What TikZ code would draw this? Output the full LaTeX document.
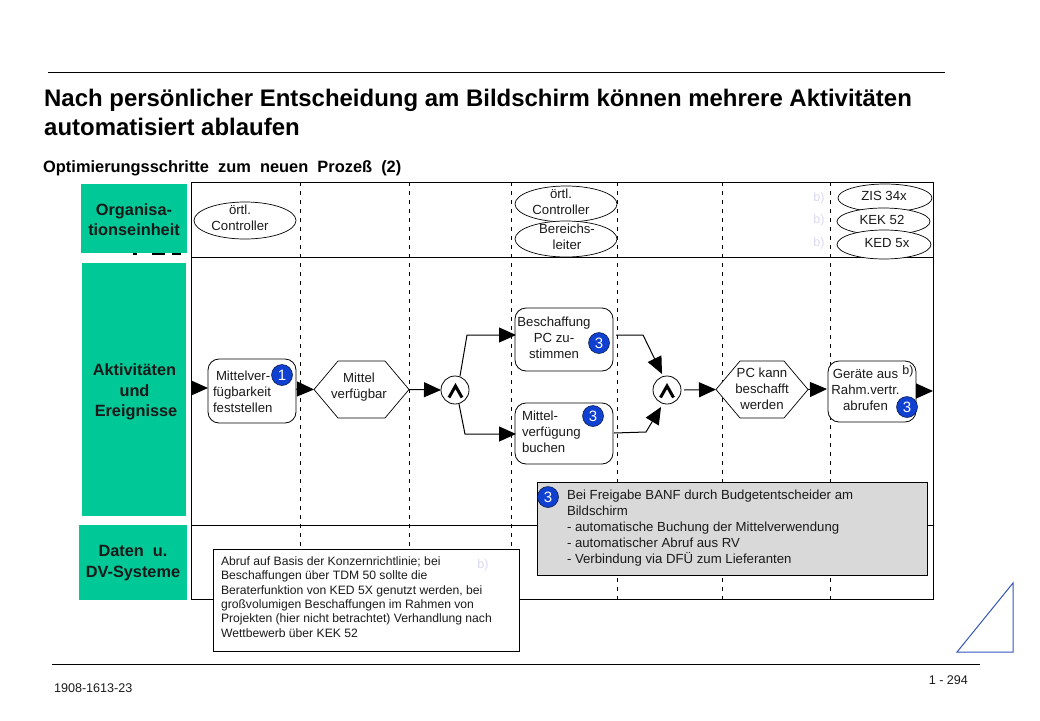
\documentclass[tikz,border=0pt]{standalone}
\usepackage{fontspec}
\setmainfont{Liberation Sans}
\usetikzlibrary{arrows.meta,shapes.geometric}
\definecolor{grn}{HTML}{00C896}
\definecolor{bdg}{HTML}{1040D0}
\definecolor{ink}{HTML}{1A1A1A}
\definecolor{lav}{HTML}{DADAF0}
\definecolor{tri}{HTML}{3355BB}
\newcommand{\hexpath}[1]{\draw[line width=0.7pt,fill=white] (#1.west) -- ([xshift=24pt]#1.north west) -- ([xshift=-24pt]#1.north east) -- (#1.east) -- ([xshift=-24pt]#1.south east) -- ([xshift=24pt]#1.south west) -- cycle;}
\tikzset{
 x=1pt,y=-1pt,
 lab/.style={inner sep=0,outer sep=0,text=ink,font=\fontsize{13.2}{16}\selectfont,align=center},
 lableft/.style={lab,align=left,anchor=west},
 green/.style={fill=grn,inner sep=0,outer sep=0},
 greentext/.style={inner sep=0,outer sep=0,text=black!90,font=\bfseries\fontsize{16.3}{20.5}\selectfont,align=center},
 org/.style={ellipse,draw=black,fill=white,line width=0.7pt,inner sep=0,outer sep=0,minimum width=#1},
 act/.style={rounded corners=11pt,draw=black,fill=white,line width=0.8pt,inner sep=0,outer sep=0,rectangle},
 hexa/.style={rectangle,inner sep=0,outer sep=0},
 badge/.style={circle,fill=bdg,draw=black!70!bdg,line width=0.5pt,minimum size=21pt,inner sep=0,outer sep=0,text=white,font=\fontsize{15}{15}\selectfont},
 andg/.style={circle,draw=black,fill=white,line width=0.8pt,minimum size=28pt,inner sep=0,outer sep=0},
 flow/.style={line width=1pt,draw=black,-{Triangle[length=17pt,width=15pt]}},
 guide/.style={line width=1pt,dashed,dash pattern=on 4pt off 5pt,draw=black},
 faint/.style={inner sep=0,text=lav,font=\fontsize{12.5}{12.5}\selectfont},
}
\begin{document}
\begin{tikzpicture}
\useasboundingbox (0,0) rectangle (1040,720);
% rules
\coordinate (ta) at (48,72); \coordinate (tb) at (945,72);
\draw[line width=0.9pt] (ta) -- (tb);
\coordinate (ba) at (52,664); \coordinate (bb) at (980,664);
\draw[line width=0.9pt] (ba) -- (bb);
% title
\node[inner sep=0,anchor=west,text=black,font=\bfseries\fontsize{23.95}{29.5}\selectfont,align=left] (title) at (44,112.5) {Nach persönlicher Entscheidung am Bildschirm können mehrere Aktivitäten\\automatisiert ablaufen};
\node[inner sep=0,anchor=west,text=black,font=\bfseries\fontsize{16.4}{16.4}\selectfont] (sub) at (43,168) {Optimierungsschritte\ \ zum\ \ neuen\ \ Prozeß\ \ (2)};
% remnants below the first green box
\fill (133,252) rectangle (137,255);
\fill (152,252) rectangle (165,255);
\fill (172,252) rectangle (181,255);
% green
\node[green,minimum width=106pt,minimum height=69pt] (g1) at (134,218.5) {};
\node[greentext] (g1t) at (134,219.5) {Organisa-\\tionseinheit};
\node[green,minimum width=104pt,minimum height=253pt] (g2) at (134,389.5) {};
\node[greentext] (g2t) at (134.5,392) {Aktivitäten\\und\\\hspace*{3pt}Ereignisse};
\node[green,minimum width=108pt,minimum height=75pt] (g3) at (133,562.5) {};
\node[greentext] (g3t) at (133,563) {Daten\ \ u.\\DV-Systeme};
% frame
\node[draw=black,line width=1pt,inner sep=0,outer sep=0,minimum width=742pt,minimum height=417pt] (frame) at (562,390.5) {};
\coordinate (r1a) at (191,257); \coordinate (r1b) at (933,257);
\coordinate (r2a) at (191,525); \coordinate (r2b) at (933,525);
\draw[line width=1pt] (r1a) -- (r1b);
\draw[line width=1pt] (r2a) -- (r2b);
\foreach \gx [count=\gi] in {300,409,511,617,722,830}{
 \coordinate (gt\gi) at (\gx,182); \coordinate (gb\gi) at (\gx,601);
 \draw[guide] (gt\gi) -- (gb\gi);
}
% org ellipses
\node[org=102pt,minimum height=37pt] (e1) at (245,220.5) {};
\node[lab] (e1t) at (240,218) {örtl.\\Controller};
\node[org=102pt,minimum height=36pt] (e2) at (566,204) {};
\node[lab] (e2t) at (561,201.5) {örtl.\\Controller};
\node[org=102pt,minimum height=36pt] (e3) at (566,239) {};
\node[lab] (e3t) at (567,237) {Bereichs-\\leiter};
\node[org=94pt,minimum height=28pt] (e4) at (885,198) {};
\node[lab] (e4t) at (884,196) {ZIS 34x};
\node[org=93pt,minimum height=27pt] (e5) at (883.5,221.5) {};
\node[lab] (e5t) at (882,220) {KEK 52};
\node[org=94pt,minimum height=29pt] (e6) at (884,244.5) {};
\node[lab] (e6t) at (887,243) {KED 5x};
\node[faint] (b1) at (819,198) {b)};
\node[faint] (b2) at (819,220) {b)};
\node[faint] (b3) at (819,243) {b)};
% activities
\node[act,minimum width=88pt,minimum height=64pt] (a1) at (252,391) {};
\node[lableft] (a1t) at (213,391.5) {\hspace*{3pt}Mittelver-\\fügbarkeit\\feststellen};
\node[hexa,minimum width=95pt,minimum height=57pt] (h1) at (361.5,389.5) {};
\hexpath{h1}
\node[lab] (h1t) at (359,387) {Mittel\\verfügbar};
\node[andg] (c1) at (455,390) {};
\node[act,minimum width=98pt,minimum height=63pt] (a2) at (564,339.5) {};
\node[lab] (a2t) at (554,338) {Beschaffung\\PC zu-\\stimmen};
\node[act,minimum width=98pt,minimum height=61pt] (a3) at (564,433.5) {};
\node[lableft] (a3t) at (522,432) {Mittel-\\verfügung\\buchen};
\node[andg] (c2) at (667,390) {};
\node[hexa,minimum width=92pt,minimum height=57pt] (h2) at (762,389.5) {};
\hexpath{h2}
\node[lab] (h2t) at (762,389) {PC kann\\beschafft\\werden};
\node[act,minimum width=88pt,minimum height=61pt] (a4) at (872,391.5) {};
\node[lab] (a4t) at (865.5,390) {Geräte\ aus\\Rahm.vertr.\\abrufen};
\node[lab,font=\fontsize{12.5}{12.5}\selectfont] (a4b) at (908,371) {b)};
% and symbols
\coordinate (s1a) at (449,397.5); \coordinate (s1b) at (455.5,386); \coordinate (s1c) at (462,397.5);
\draw[line width=3pt] (s1a) -- (s1b) -- (s1c);
\coordinate (s2a) at (660.5,397.5); \coordinate (s2b) at (667,386); \coordinate (s2c) at (673.5,397.5);
\draw[line width=3pt] (s2a) -- (s2b) -- (s2c);
% connectors
\coordinate (in) at (191,388); \coordinate (in2) at (208,388);
\draw[flow] (in) -- (in2);
\coordinate (a1o) at (296,389);
\draw[flow] (a1o) -- (h1.west);
\draw[flow] (h1.east) -- (c1.west);
\coordinate (w1) at (467,335); \coordinate (w1s) at (460,376);
\coordinate (a2in) at (516,335);
\draw[flow] (w1s) -- (w1) -- (a2in);
\coordinate (w2) at (465,434); \coordinate (w2s) at (459,404);
\coordinate (a3in) at (516,434);
\draw[flow] (w2s) -- (w2) -- (a3in);
\coordinate (w3s) at (616,335); \coordinate (w3) at (643,335); \coordinate (c2a) at (662,374);
\draw[flow] (w3s) -- (w3) -- (c2a);
\coordinate (w4s) at (614,433); \coordinate (w4) at (646,432); \coordinate (c2b) at (661,407);
\draw[flow] (w4s) -- (w4) -- (c2b);
\coordinate (c2o) at (684,390);
\draw[flow] (c2o) -- (h2.west);
\coordinate (a4in) at (827,389);
\draw[flow] (h2.east) -- (a4in);
\coordinate (a4o) at (917,391); \coordinate (fo) at (933,391);
\draw[flow] (a4o) -- (fo);
% badges
\node[badge] (n1) at (282,375) {1};
\node[badge] (n2) at (599,343) {3};
\node[badge] (n3) at (593,416) {3};
\node[badge] (n4) at (907,407) {3};
% grey note
\node[draw=black,fill=black!15,line width=0.8pt,inner sep=0,outer sep=0,minimum width=390pt,minimum height=93pt] (gn) at (732,528.5) {};
\node[lableft,font=\fontsize{13.2}{16}\selectfont] (gnt) at (567,528.5) {Bei Freigabe BANF durch Budgetentscheider am\\Bildschirm\\- automatische Buchung der Mittelverwendung\\- automatischer Abruf aus RV\\- Verbindung via DFÜ zum Lieferanten};
\node[badge] (n5) at (548,497) {3};
% white note
\node[draw=black,fill=white,line width=0.8pt,inner sep=0,outer sep=0,minimum width=306pt,minimum height=102pt] (wn) at (366,600) {};
\node[lableft,font=\fontsize{12.15}{14.3}\selectfont] (wnt) at (221,597) {Abruf auf Basis der Konzernrichtlinie; bei\\Beschaffungen über TDM 50 sollte die\\Beraterfunktion von KED 5X genutzt werden, bei\\großvolumigen Beschaffungen im Rahmen von\\Projekten (hier nicht betrachtet) Verhandlung nach\\Wettbewerb über KEK 52};
\node[faint] (b4) at (483,565) {b)};
% footer
\node[lableft,font=\fontsize{12.6}{12.6}\selectfont] (f1) at (54,688) {1908-1613-23};
\node[lab,anchor=east,font=\fontsize{12.6}{12.6}\selectfont] (f2) at (968,680) {1 - 294};
\coordinate (t1) at (1013,583); \coordinate (t2) at (1013,652); \coordinate (t3) at (957,652);
\draw[tri,line width=1pt] (t1) -- (t2) -- (t3) -- cycle;
\end{tikzpicture}
\end{document}
